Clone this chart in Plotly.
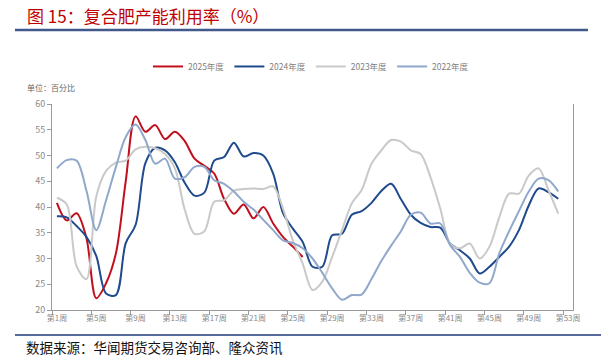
import plotly.graph_objects as go

weeks = list(range(1, 53))
tick_weeks = [1, 5, 9, 13, 17, 21, 25, 29, 33, 37, 41, 45, 49, 53]
tick_labels = ["第%d周" % w for w in tick_weeks]

y2025 = [40.8, 37.4, 38.8, 34.0, 22.3, 25.2, 31.0, 45.0, 57.6, 54.6, 55.9, 53.2, 54.6, 52.8, 49.4,
         48.0, 46.5, 41.6, 38.7, 40.5, 37.8, 40.0, 36.8, 34.2, 32.3, 30.3]
y2024 = [38.2, 38.0, 36.3, 34.2, 30.5, 23.2, 22.9, 33.0, 36.5, 48.5, 51.5, 51.0, 48.7, 44.7, 42.2,
         42.8, 49.0, 49.7, 52.5, 49.8, 50.5, 50.0, 46.5, 38.8, 35.8, 33.2, 28.4, 28.4, 34.5, 34.8,
         38.5, 39.2, 40.8, 43.1, 44.5, 41.5, 38.5, 36.9, 36.1, 36.0, 32.9, 31.6, 30.0, 27.1, 28.4,
         30.3, 32.3, 35.5, 40.3, 43.6, 42.9, 41.6]
y2023 = [41.8, 40.5, 28.5, 26.0, 42.0, 47.0, 48.6, 49.0, 51.2, 51.7, 51.4, 50.3, 47.5, 39.5, 34.8,
         35.3, 41.0, 41.3, 43.2, 43.5, 43.6, 43.5, 44.0, 39.7, 33.5, 29.0, 23.9, 25.5, 30.3, 35.5,
         40.7, 43.3, 48.4, 51.0, 53.0, 52.7, 51.0, 50.3, 45.8, 39.7, 32.9, 32.0, 32.9, 30.0, 32.3,
         38.0, 42.6, 42.6, 46.1, 47.5, 43.3, 38.7]
y2022 = [47.5, 49.1, 49.0, 43.2, 35.5, 41.3, 47.8, 53.6, 56.0, 53.0, 48.4, 49.4, 45.5, 45.8, 47.8,
         47.8, 45.2, 44.5, 43.0, 41.0, 39.5, 37.5, 35.5, 33.5, 33.0, 32.0, 30.0, 27.2, 24.2, 22.0,
         22.9, 23.0, 26.0, 29.5, 32.5, 35.3, 38.5, 38.9, 36.8, 36.8, 32.6, 30.3, 27.2, 25.3, 25.2,
         31.0, 35.3, 39.2, 43.0, 45.5, 45.2, 43.0]

series = [
    ("2025年度", y2025, "#C0101E"),
    ("2024年度", y2024, "#1F4A8E"),
    ("2023年度", y2023, "#C9C9C9"),
    ("2022年度", y2022, "#8FA8CC"),
]

FONT = "Noto Sans CJK SC"
fig = go.Figure()
for name, vals, color in series:
    fig.add_trace(go.Scatter(
        x=weeks[:len(vals)], y=vals, name=name, mode="lines",
        line=dict(color=color, width=2, shape="spline", smoothing=0.9),
    ))

L, R, T, B = 52, 28, 103.6, 49
W, H = 601, 359
pw, ph = W - L - R, H - T - B


def px(x):
    return (x - L) / pw


def py(y):
    return (H - B - y) / ph


fig.update_layout(
    width=W, height=H,
    margin=dict(l=L, r=R, t=T, b=B, pad=0, autoexpand=False),
    paper_bgcolor="white", plot_bgcolor="white",
    font=dict(family=FONT, color="#7f7f7f", size=9),
    showlegend=True,
    legend=dict(orientation="h", x=px(148), y=py(66), xanchor="left", yanchor="middle",
                font=dict(size=8.5, color="#7f7f7f"), bgcolor="rgba(0,0,0,0)",
                itemwidth=30, tracegroupgap=0),
    xaxis=dict(range=[0.5, 53.5], tickvals=tick_weeks, ticktext=tick_labels,
               ticks="", showgrid=False, zeroline=False, showline=True,
               linecolor="#9a9a9a", linewidth=1,
               tickfont=dict(size=8, color="#8a8a8a"),
               minor=dict(tick0=0.5, dtick=4, ticks="outside", ticklen=4,
                          tickcolor="#9a9a9a", showgrid=False)),
    yaxis=dict(range=[20, 60], dtick=5, ticks="outside", ticklen=4, tickcolor="#9a9a9a",
               showgrid=False, zeroline=False, showline=True, linecolor="#9a9a9a",
               linewidth=1, mirror=True, tickfont=dict(size=9, color="#8a8a8a")),
)

fig.add_annotation(text="图 15：复合肥产能利用率（%）", xref="paper", yref="paper",
                   x=px(25), y=py(15), xanchor="left", yanchor="middle", showarrow=False,
                   font=dict(family=FONT, size=17, color="#C00000"))
fig.add_annotation(text="单位：百分比", xref="paper", yref="paper",
                   x=px(25), y=py(87), xanchor="left", yanchor="middle", showarrow=False,
                   font=dict(family=FONT, size=8, color="#666666"))
fig.add_annotation(text="数据来源：华闻期货交易咨询部、隆众资讯", xref="paper", yref="paper",
                   x=px(24), y=py(347), xanchor="left", yanchor="middle", showarrow=False,
                   font=dict(family=FONT, size=13.5, color="#111111"))

fig.add_shape(type="line", xref="paper", yref="paper", x0=px(15), x1=px(588),
              y0=py(29.5), y1=py(29.5), line=dict(color="#41598A", width=2.5))
fig.add_shape(type="line", xref="paper", yref="paper", x0=px(15), x1=px(601),
              y0=py(335), y1=py(335), line=dict(color="#1F3A7A", width=1.5))

fig.write_html("out.html", config={"displayModeBar": False},
               post_script="document.body.style.margin='0';")
